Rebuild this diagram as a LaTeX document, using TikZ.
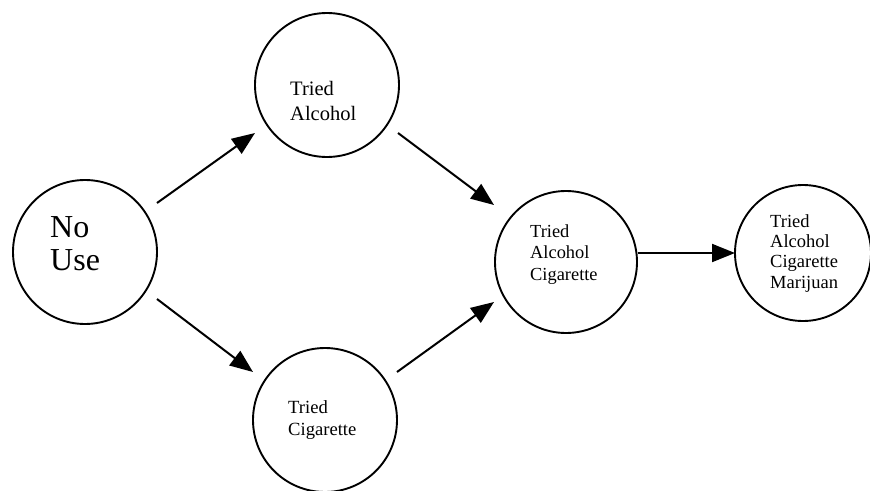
\documentclass[tikz,border=0pt]{standalone}
\usepackage{fontspec}
\setmainfont{Liberation Serif}
\usetikzlibrary{arrows.meta}
\begin{document}
\begin{tikzpicture}[x=1pt,y=-1pt,
  circ/.style={draw, circle, line width=1.9pt, inner sep=0pt},
  txt/.style={anchor=base west, align=left, inner sep=0pt},
  arr/.style={line width=2pt, -{Triangle[length=23pt,width=18pt]}}]
\useasboundingbox (0,0) rectangle (870,490);
% circles
\node[circ, minimum size=144pt] (nouse) at (85,252) {};
\node[circ, minimum size=144pt] (alc) at (327,85) {};
\node[circ, minimum size=144pt] (cig) at (325,420) {};
\node[circ, minimum size=142pt] (ac) at (566,262) {};
\node[circ, minimum size=136pt] (acm) at (803,253) {};
% texts (anchor at baseline of last line)
\node[txt, font=\fontsize{32}{33}\selectfont] (tnouse) at (50,270) {No\\Use};
\node[txt, font=\fontsize{20.5}{25}\selectfont] (talc) at (290,120) {Tried\\Alcohol};
\node[txt, font=\fontsize{18.6}{22}\selectfont] (tcig) at (288,435) {Tried\\Cigarette};
\node[txt, font=\fontsize{18.4}{21.5}\selectfont] (tac) at (530,280) {Tried\\Alcohol\\Cigarette};
\node[txt, font=\fontsize{18.5}{20.3}\selectfont] (tacm) at (770,288) {Tried\\Alcohol\\Cigarette\\Marijuan};
% connector ends
\coordinate (a1s) at (157,203); \coordinate (a1e) at (255,133);
\coordinate (a2s) at (398,133); \coordinate (a2e) at (494,205);
\coordinate (a3s) at (157,299); \coordinate (a3e) at (253,372);
\coordinate (a4s) at (397,372); \coordinate (a4e) at (494,302);
\coordinate (a5s) at (638,253); \coordinate (a5e) at (735,253);
\draw[arr] (a1s) -- (a1e);
\draw[arr] (a2s) -- (a2e);
\draw[arr] (a3s) -- (a3e);
\draw[arr] (a4s) -- (a4e);
\draw[arr] (a5s) -- (a5e);
\end{tikzpicture}
\end{document}
